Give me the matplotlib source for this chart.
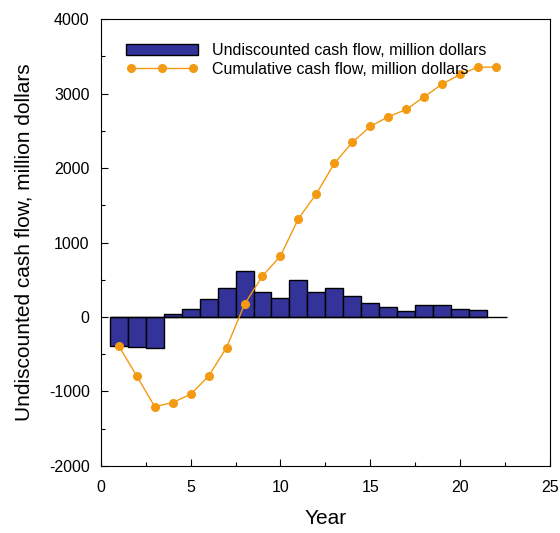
import numpy as np
import matplotlib
matplotlib.use("Agg")
import matplotlib.pyplot as plt
from matplotlib.ticker import MultipleLocator

plt.rcParams["font.family"] = ["Liberation Sans", "DejaVu Sans"]
plt.rcParams["axes.unicode_minus"] = False

# Yearly undiscounted cash flow (million dollars), years 1..21
bar_years = np.arange(1, 22)
cash_flow = [-390, -405, -420, 36, 107, 237, 385, 613, 340, 255, 497,
             331, 389, 277, 192, 139, 80, 166, 166, 112, 98]

# Cumulative cash flow (million dollars), years 1..22
line_years = np.arange(1, 23)
cumulative = [-390, -792, -1204, -1150, -1038, -796, -411, 170, 550, 819,
              1320, 1655, 2063, 2345, 2559, 2689, 2788, 2957, 3128, 3258,
              3356, 3356]

BAR_COLOR = "#333399"
LINE_COLOR = "#F39A12"


def main():
    fig = plt.figure(figsize=(5.6, 5.33), dpi=100)
    ax = fig.add_axes([0.18, 0.126, 0.802, 0.838])

    bars = ax.bar(bar_years, cash_flow, width=1.0, color=BAR_COLOR,
                  edgecolor="black", linewidth=1.0,
                  label="Undiscounted cash flow, million dollars", zorder=2)
    ax.hlines(0, 0.5, 22.6, color="black", linewidth=1.0, zorder=2)
    line, = ax.plot(line_years, cumulative, color=LINE_COLOR, linewidth=1.0,
                    marker="o", markersize=5.5, markeredgecolor=LINE_COLOR,
                    label="Cumulative cash flow, million dollars", zorder=3)

    ax.set_xlim(0, 25)
    ax.set_ylim(-2000, 4000)
    ax.xaxis.set_major_locator(MultipleLocator(5))
    ax.xaxis.set_minor_locator(MultipleLocator(2.5))
    ax.yaxis.set_major_locator(MultipleLocator(1000))
    ax.yaxis.set_minor_locator(MultipleLocator(500))
    ax.tick_params(which="both", direction="in", top=False, right=False,
                   labelsize=11.5, width=0.8)
    ax.tick_params(which="major", length=5)
    ax.tick_params(which="minor", length=3)
    ax.tick_params(axis="x", pad=10)
    ax.tick_params(axis="y", pad=8)
    for spine in ax.spines.values():
        spine.set_linewidth(0.8)

    ax.set_xlabel("Year", fontsize=15, labelpad=10)
    ax.set_ylabel("Undiscounted cash flow, million dollars", fontsize=15,
                  labelpad=11)

    ax.legend(handles=[bars, line], loc="upper left",
              bbox_to_anchor=(0.056, 0.946),
              borderaxespad=0, borderpad=0, frameon=False, fontsize=11.5,
              handlelength=4.5, handletextpad=0.9, labelspacing=0.22,
              numpoints=3)

    fig.savefig("out.png", dpi=100)


if __name__ == "__main__":
    main()
